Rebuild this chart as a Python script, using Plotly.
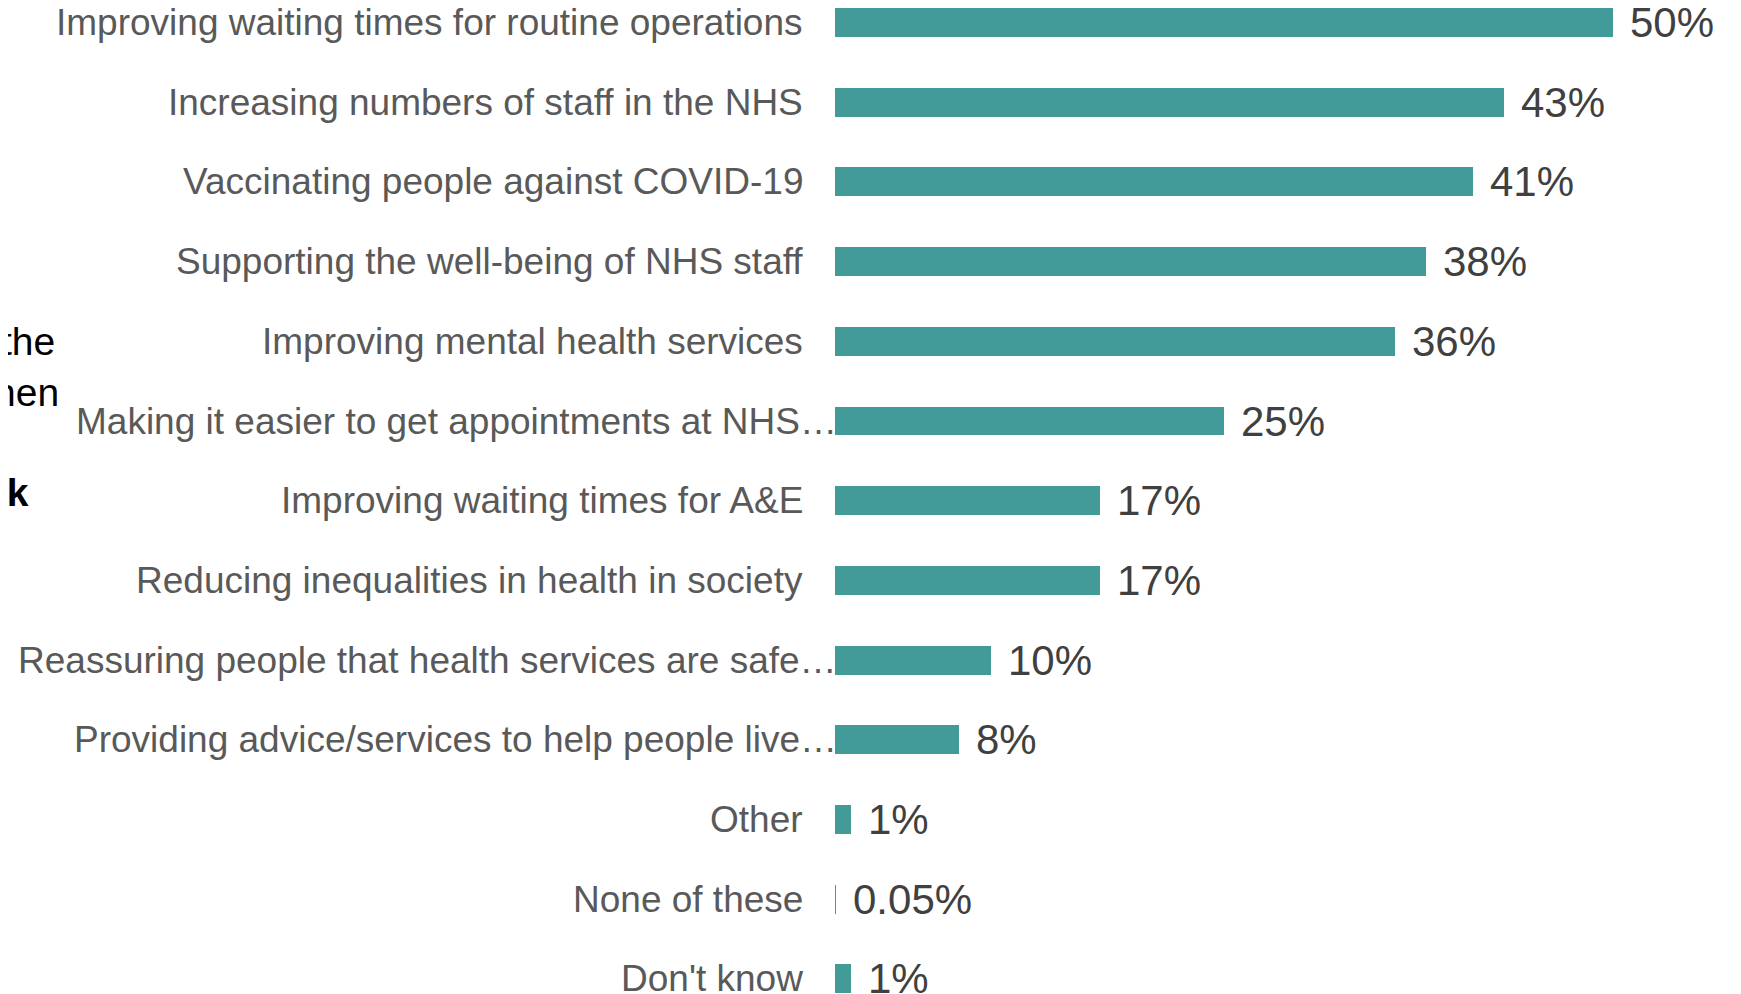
import plotly.graph_objects as go

categories = [
    "Improving waiting times for routine operations",
    "Increasing numbers of staff in the NHS",
    "Vaccinating people against COVID-19",
    "Supporting the well-being of NHS staff",
    "Improving mental health services",
    "Making it easier to get appointments at NHS\u2026",
    "Improving waiting times for A&E",
    "Reducing inequalities in health in society",
    "Reassuring people that health services are safe\u2026",
    "Providing advice/services to help people live\u2026",
    "Other",
    "None of these",
    "Don't know",
]
values = [50, 43, 41, 38, 36, 25, 17, 17, 10, 8, 1, 0.05, 1]
value_labels = ["50%", "43%", "41%", "38%", "36%", "25%", "17%", "17%", "10%", "8%", "1%", "0.05%", "1%"]
title_fragments = ["the", "hen", "<b>nk</b>"]

W, H = 1741, 994
LEFT = 827
TOP_CENTER = 14.5
ROW = 79.7
BAR_COLOR = "#429b99"

fig = go.Figure()
fig.add_trace(go.Bar(
    y=categories, x=values, orientation="h",
    marker=dict(color=BAR_COLOR, line=dict(width=0)),
    width=0.3625, hoverinfo="skip", showlegend=False,
))

annotations = []
for c, v, t in zip(categories, values, value_labels):
    truncated = c.endswith("\u2026")
    annotations.append(dict(
        x=0, xref="paper", y=c, yref="y", text=c, showarrow=False,
        xanchor="right", yanchor="middle", xshift=4 if truncated else -30,
        font=dict(family="Liberation Sans, Arial", size=37, color="#595959"),
    ))
    annotations.append(dict(
        x=v, xref="x", y=c, yref="y", text=t, showarrow=False,
        xanchor="left", yanchor="middle", xshift=15,
        font=dict(family="Liberation Sans, Arial", size=42, color="#404040"),
    ))

frag_right = [49, 53, 23]
frag_mid = [333, 385, 485]
for txt, r, m in zip(title_fragments, frag_right, frag_mid):
    annotations.append(dict(
        x=0, xref="paper", y=1 - m / H, yref="paper", text=txt, showarrow=False,
        xanchor="right", yanchor="middle", xshift=-(LEFT - r),
        font=dict(family="Liberation Sans, Arial", size=39, color="#000000"),
    ))

px_per_unit = 15.56
fig.update_layout(
    width=W, height=H,
    margin=dict(l=LEFT, r=0, t=0, b=0),
    paper_bgcolor="white", plot_bgcolor="white",
    annotations=annotations,
    xaxis=dict(range=[0, (W - LEFT) / px_per_unit], visible=False, fixedrange=True),
    yaxis=dict(type="category", categoryorder="array", categoryarray=categories,
               range=[(H - TOP_CENTER) / ROW, -TOP_CENTER / ROW], showticklabels=False,
               showgrid=False, zeroline=False, showline=False, ticks=""),
    bargap=0,
)
fig.write_html("out.html", config={"displayModeBar": False})
